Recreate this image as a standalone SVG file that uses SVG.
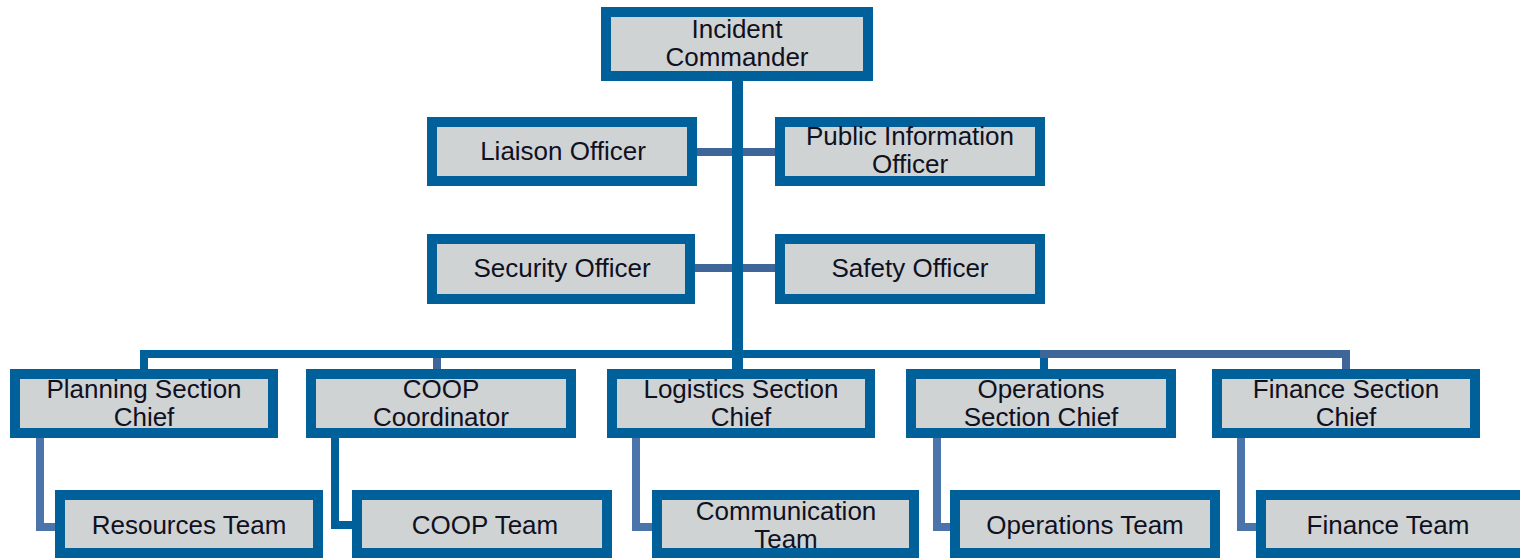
<svg xmlns="http://www.w3.org/2000/svg" width="1520" height="560" viewBox="0 0 1520 560">
  <style>
    .box { fill: #cfd3d4; stroke: #00609a; stroke-width: 10; }
    .lbl { font-family: "Liberation Sans", Arial, sans-serif; font-size: 26px; fill: #10101e; text-anchor: middle; }
    .main { stroke: #00609a; fill: none; stroke-linejoin: miter; stroke-linecap: butt; }
    .soft { stroke: #3f6698; fill: none; stroke-linejoin: miter; stroke-linecap: butt; }
    .team { stroke: #4a74aa; fill: none; stroke-linejoin: miter; stroke-linecap: butt; }
  </style>
  <rect width="1520" height="560" fill="#ffffff"/>

  <g id="connectors">
    <!-- trunk from Incident Commander to section bus -->
    <line class="main" x1="737.5" y1="76" x2="737.5" y2="375" stroke-width="11"/>
    <!-- command staff links -->
    <line class="soft" x1="692" y1="152" x2="732" y2="152" stroke-width="8"/>
    <line class="soft" x1="743" y1="152" x2="780" y2="152" stroke-width="8"/>
    <line class="soft" x1="690" y1="268" x2="732" y2="268" stroke-width="8"/>
    <line class="soft" x1="743" y1="268" x2="780" y2="268" stroke-width="8"/>
    <!-- section bus -->
    <polyline class="main" points="144,374 144,354 1044,354 1044,374" stroke-width="8"/>
    <polyline class="soft" points="1040,354 1346,354 1346,374" stroke-width="8"/>
    <line class="soft" x1="437" y1="358" x2="437" y2="374" stroke-width="8"/>
    <!-- section chief to team links -->
    <polyline class="team" points="40,433 40,527 60,527" stroke-width="8"/>
    <polyline class="main" points="335,433 335,525 357,525" stroke-width="8"/>
    <polyline class="team" points="636,433 636,527 657,527" stroke-width="8"/>
    <polyline class="team" points="937,433 937,527 955,527" stroke-width="8"/>
    <polyline class="team" points="1241,433 1241,527 1261,527" stroke-width="8"/>
  </g>

  <g id="incident-commander">
    <rect class="box" x="606" y="12" width="262" height="64"/>
    <text class="lbl" x="737" y="38">Incident</text>
    <text class="lbl" x="737" y="66">Commander</text>
  </g>
  <g id="liaison-officer">
    <rect class="box" x="432" y="122" width="260" height="59"/>
    <text class="lbl" x="563" y="160">Liaison Officer</text>
  </g>
  <g id="public-information-officer">
    <rect class="box" x="780" y="122" width="260" height="59"/>
    <text class="lbl" x="910" y="145">Public Information</text>
    <text class="lbl" x="910" y="173">Officer</text>
  </g>
  <g id="security-officer">
    <rect class="box" x="432" y="239" width="258" height="60"/>
    <text class="lbl" x="562" y="277">Security Officer</text>
  </g>
  <g id="safety-officer">
    <rect class="box" x="780" y="239" width="260" height="60"/>
    <text class="lbl" x="910" y="277">Safety Officer</text>
  </g>

  <g id="planning-section-chief">
    <rect class="box" x="15" y="374" width="258" height="59"/>
    <text class="lbl" x="144" y="398">Planning Section</text>
    <text class="lbl" x="144" y="426">Chief</text>
  </g>
  <g id="coop-coordinator">
    <rect class="box" x="311" y="374" width="260" height="59"/>
    <text class="lbl" x="441" y="398">COOP</text>
    <text class="lbl" x="441" y="426">Coordinator</text>
  </g>
  <g id="logistics-section-chief">
    <rect class="box" x="612" y="374" width="258" height="59"/>
    <text class="lbl" x="741" y="398">Logistics Section</text>
    <text class="lbl" x="741" y="426">Chief</text>
  </g>
  <g id="operations-section-chief">
    <rect class="box" x="911" y="374" width="260" height="59"/>
    <text class="lbl" x="1041" y="398">Operations</text>
    <text class="lbl" x="1041" y="426">Section Chief</text>
  </g>
  <g id="finance-section-chief">
    <rect class="box" x="1217" y="374" width="258" height="59"/>
    <text class="lbl" x="1346" y="398">Finance Section</text>
    <text class="lbl" x="1346" y="426">Chief</text>
  </g>

  <g id="resources-team">
    <rect class="box" x="60" y="495" width="258" height="58"/>
    <text class="lbl" x="189" y="534">Resources Team</text>
  </g>
  <g id="coop-team">
    <rect class="box" x="357" y="495" width="250" height="58"/>
    <text class="lbl" x="485" y="534">COOP Team</text>
  </g>
  <g id="communication-team">
    <rect class="box" x="657" y="495" width="257" height="58"/>
    <text class="lbl" x="786" y="520">Communication</text>
    <text class="lbl" x="786" y="548">Team</text>
  </g>
  <g id="operations-team">
    <rect class="box" x="955" y="495" width="260" height="58"/>
    <text class="lbl" x="1085" y="534">Operations Team</text>
  </g>
  <g id="finance-team">
    <rect class="box" x="1261" y="495" width="270" height="58"/>
    <text class="lbl" x="1388" y="534">Finance Team</text>
  </g>
</svg>
